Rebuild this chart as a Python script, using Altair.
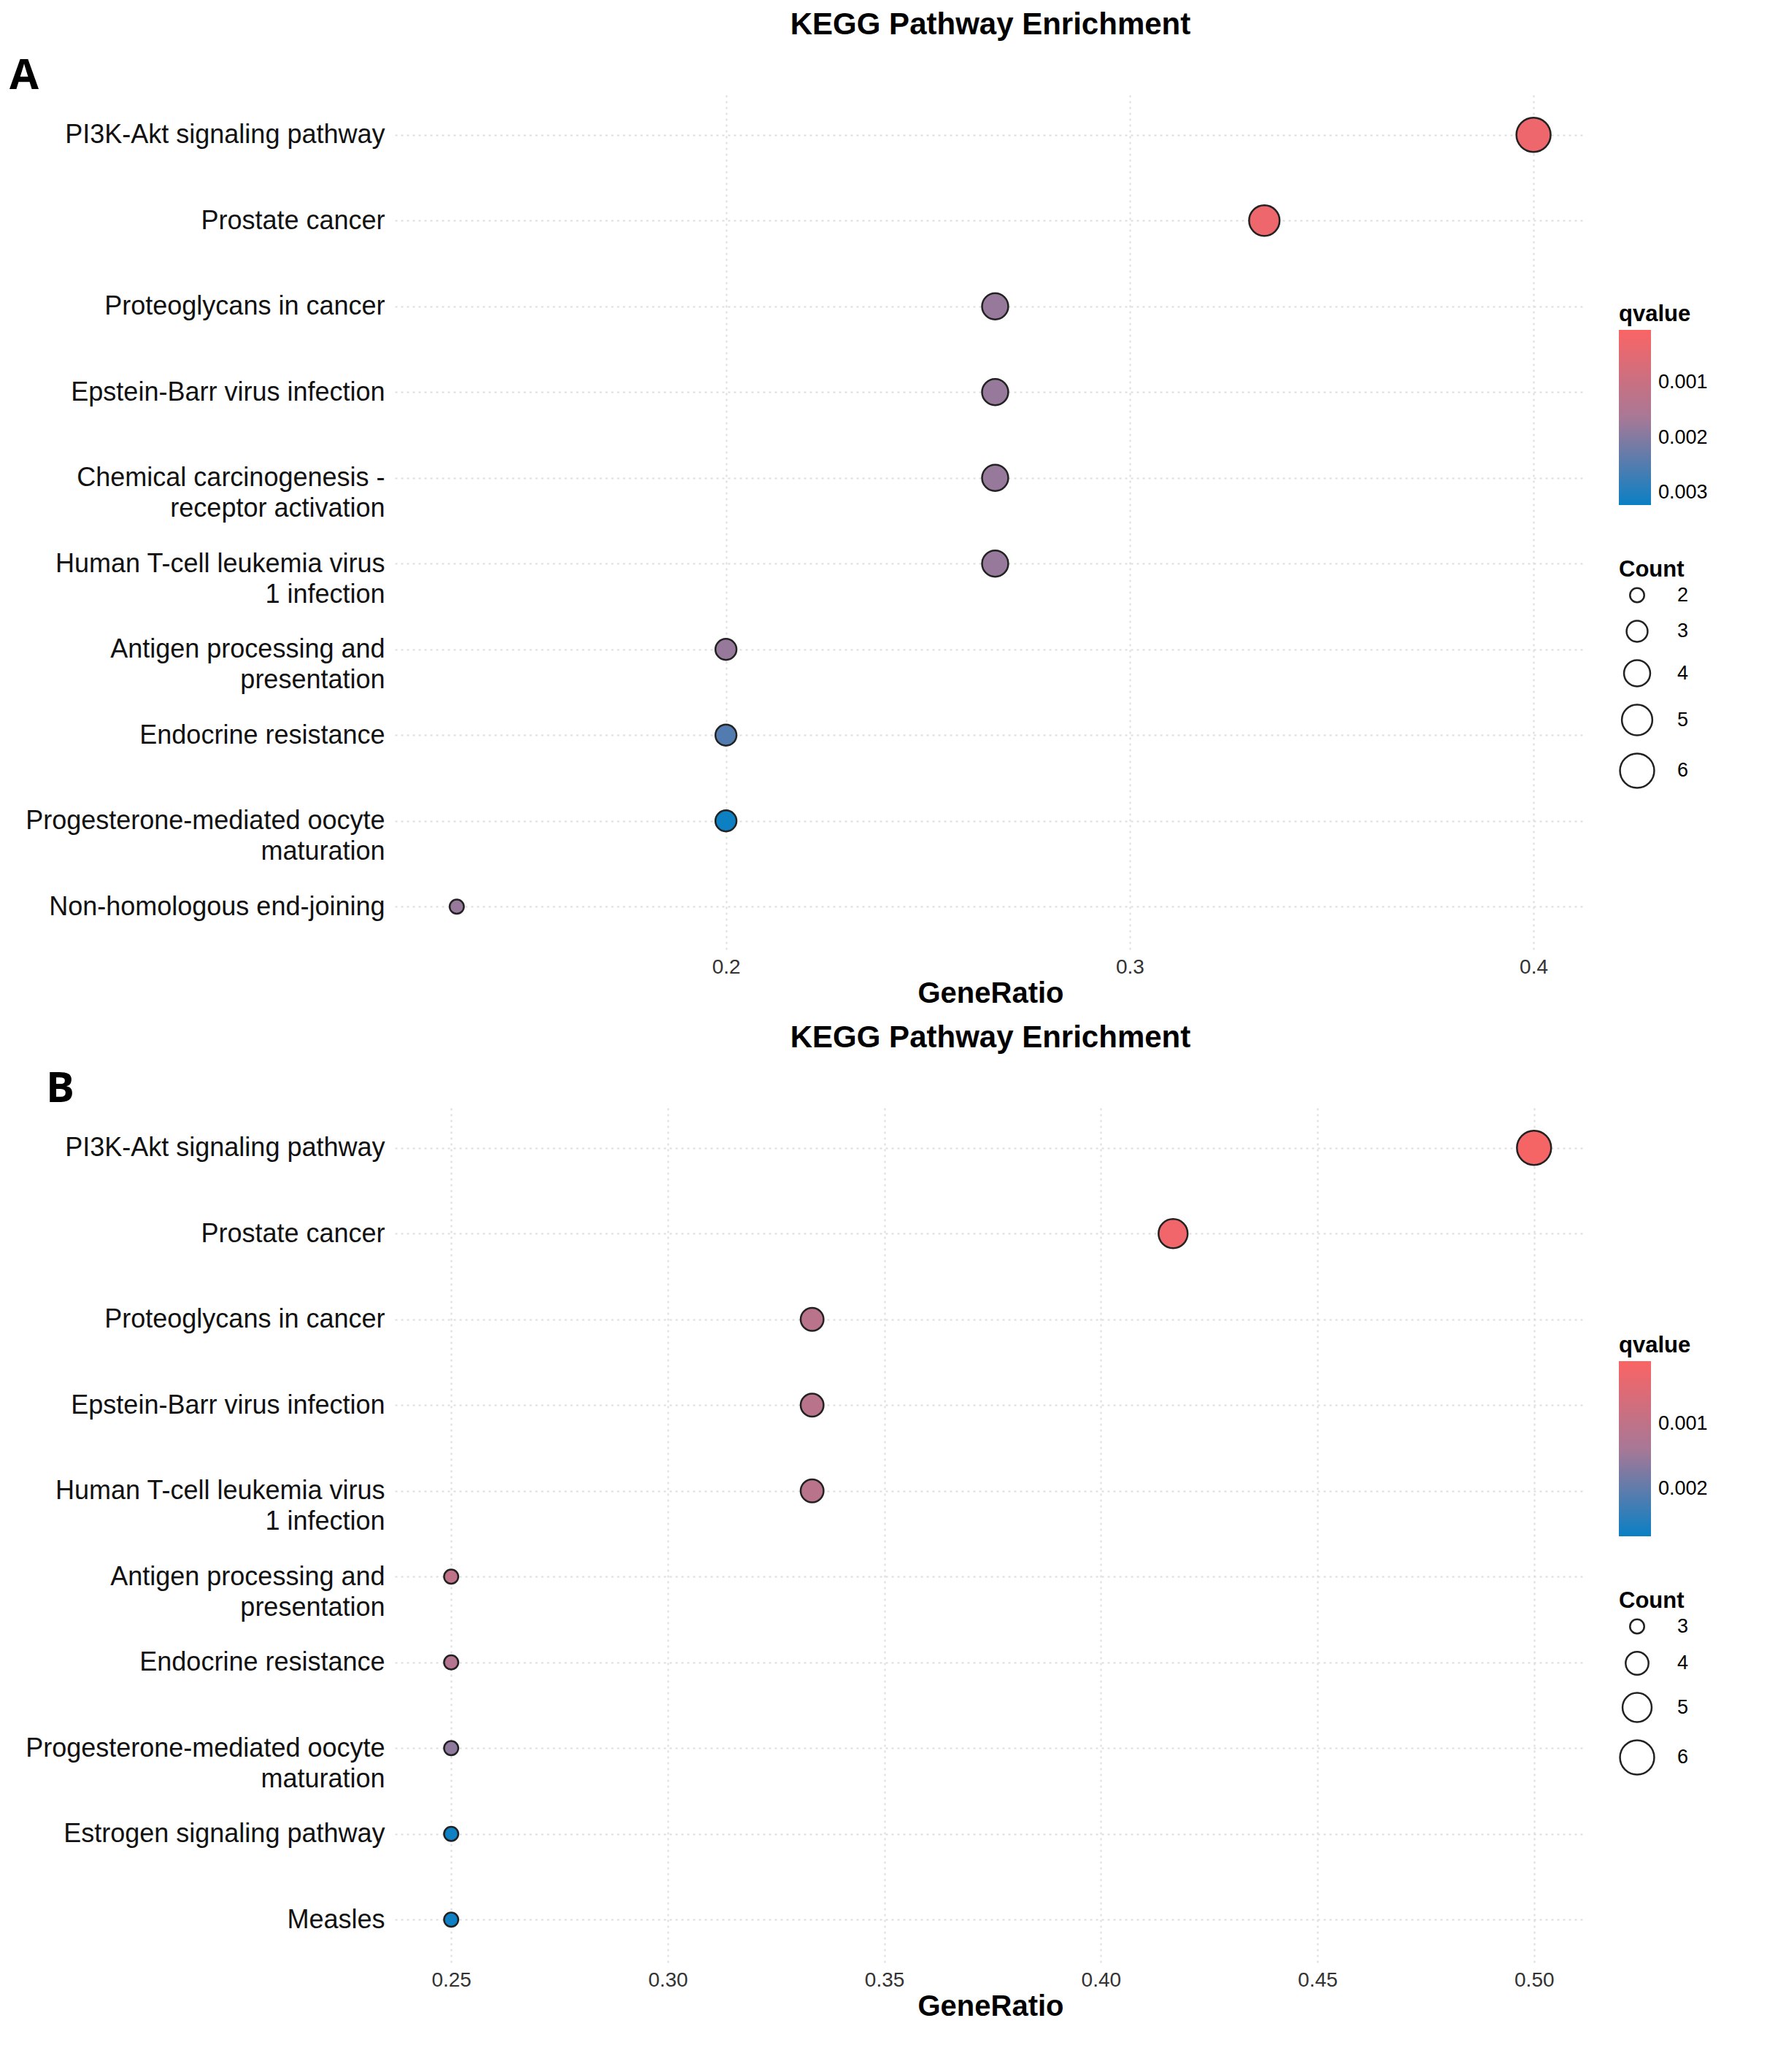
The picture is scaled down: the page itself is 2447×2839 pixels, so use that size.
import altair as alt
import pandas as pd

FONT = "Liberation Sans"

a_terms = ["PI3K-Akt signaling pathway", "Prostate cancer", "Proteoglycans in cancer",
           "Epstein-Barr virus infection", "Chemical carcinogenesis -|receptor activation",
           "Human T-cell leukemia virus|1 infection", "Antigen processing and|presentation",
           "Endocrine resistance", "Progesterone-mediated oocyte|maturation",
           "Non-homologous end-joining"]
a_ratio = [6/15, 5/15, 4/15, 4/15, 4/15, 4/15, 3/15, 3/15, 3/15, 2/15]
a_count = [6, 5, 4, 4, 4, 4, 3, 3, 3, 2]
a_q = [0.0003, 0.0003, 0.0018, 0.0018, 0.0018, 0.0018, 0.0018, 0.0025, 0.0032, 0.0018]

b_terms = ["PI3K-Akt signaling pathway", "Prostate cancer", "Proteoglycans in cancer",
           "Epstein-Barr virus infection", "Human T-cell leukemia virus|1 infection",
           "Antigen processing and|presentation", "Endocrine resistance",
           "Progesterone-mediated oocyte|maturation", "Estrogen signaling pathway", "Measles"]
b_ratio = [6/12, 5/12, 4/12, 4/12, 4/12, 3/12, 3/12, 3/12, 3/12, 3/12]
b_count = [6, 5, 4, 4, 4, 3, 3, 3, 3, 3]
b_q = [0.0001, 0.0002, 0.0011, 0.0011, 0.0011, 0.0010, 0.0012, 0.0016, 0.0027, 0.0027]

W = 1632
H = 1175

def panel(letter, lx, terms, ratio, count, q, xdom, xticks, xfmt, qdom, qticks, sdom, cy, sy):
    df = pd.DataFrame({"term": terms, "GeneRatio": ratio, "Count": count, "qvalue": q})
    base = alt.Chart(df).transform_calculate(qneg="-datum.qvalue")
    pts = base.mark_circle(opacity=1, stroke="#222222", strokeWidth=2.5).encode(
        x=alt.X("GeneRatio:Q", scale=alt.Scale(domain=xdom, nice=False, zero=False),
                axis=alt.Axis(values=xticks, format=xfmt, title="GeneRatio", grid=True,
                              gridDash=[3, 5], gridColor="#dddddd", gridWidth=2,
                              domain=False, ticks=False, labelFontSize=28, labelColor="#333333",
                              titleFontSize=40, titleFont=FONT, labelFont=FONT,
                              titlePadding=2, labelPadding=10)),
        y=alt.Y("term:N", sort=terms, scale=alt.Scale(paddingOuter=0.3, paddingInner=0),
                axis=alt.Axis(title=None, grid=True, gridDash=[3, 5], gridColor="#dddddd",
                              gridWidth=2, domain=False, ticks=False, labelFontSize=36,
                              labelColor="#111111", labelFont=FONT, labelPadding=14,
                              labelExpr="split(datum.label, '|')", labelLineHeight=42,
                              labelLimit=700)),
        color=alt.Color("qneg:Q",
                        scale=alt.Scale(domain=[-qdom[1], -qdom[0]],
                                        range=["#0a80c4", "#a87896", "#fa6464"],
                                        interpolate="rgb"),
                        legend=alt.Legend(title="qvalue", values=[-v for v in qticks],
                                          labelExpr="format(-datum.value, '.3f')",
                                          gradientLength=240, gradientThickness=44,
                                          titleFontSize=31, labelFontSize=27, orient="none",
                                          legendX=W + 45, legendY=cy, direction="vertical",
                                          titleFont=FONT, labelFont=FONT, labelOffset=10,
                                          tickCount=len(qticks))),
        size=alt.Size("Count:Q", scale=alt.Scale(domain=sdom, range=[380, 2200]),
                      legend=alt.Legend(title="Count", titleFontSize=31, labelFontSize=27,
                                        symbolFillColor="white", symbolStrokeColor="#222222",
                                        symbolStrokeWidth=2.5, orient="none", legendX=W + 45,
                                        legendY=sy, format="d", rowPadding=14, labelOffset=30,
                                        titleFont=FONT, labelFont=FONT,
                                        values=list(range(sdom[0], sdom[1] + 1)))),
    )
    lab = alt.Chart(pd.DataFrame({"t": [letter]})).mark_text(
        fontSize=58, fontWeight="bold", font="Open Sans", align="left", baseline="top"
    ).encode(text="t:N", x=alt.value(lx), y=alt.value(-50))
    return alt.layer(pts, lab).properties(
        width=W, height=H, view=alt.ViewConfig(stroke="transparent", strokeWidth=0),
        title=alt.Title("KEGG Pathway Enrichment", fontSize=42, font=FONT, fontWeight="bold",
                        anchor="middle", offset=20))

pa = panel("A", -528, a_terms, a_ratio, a_count, a_q, [0.118, 0.413], [0.2, 0.3, 0.4], ".1f",
           [0.00004, 0.00322], [0.001, 0.002, 0.003], [2, 6], 290, 640)
pb = panel("B", -478, b_terms, b_ratio, b_count, b_q, [0.237, 0.512], [0.25, 0.3, 0.35, 0.4, 0.45, 0.5], ".2f",
           [0.00004, 0.00273], [0.001, 0.002], [3, 6], 315, 665)

chart = alt.vconcat(pa, pb, spacing=20).resolve_scale(
    color="independent", size="independent", x="independent", y="independent"
).configure_view(stroke="transparent", strokeWidth=0).configure(background="white")

chart.save("out.html", embed_options={"renderer": "svg", "actions": False})
